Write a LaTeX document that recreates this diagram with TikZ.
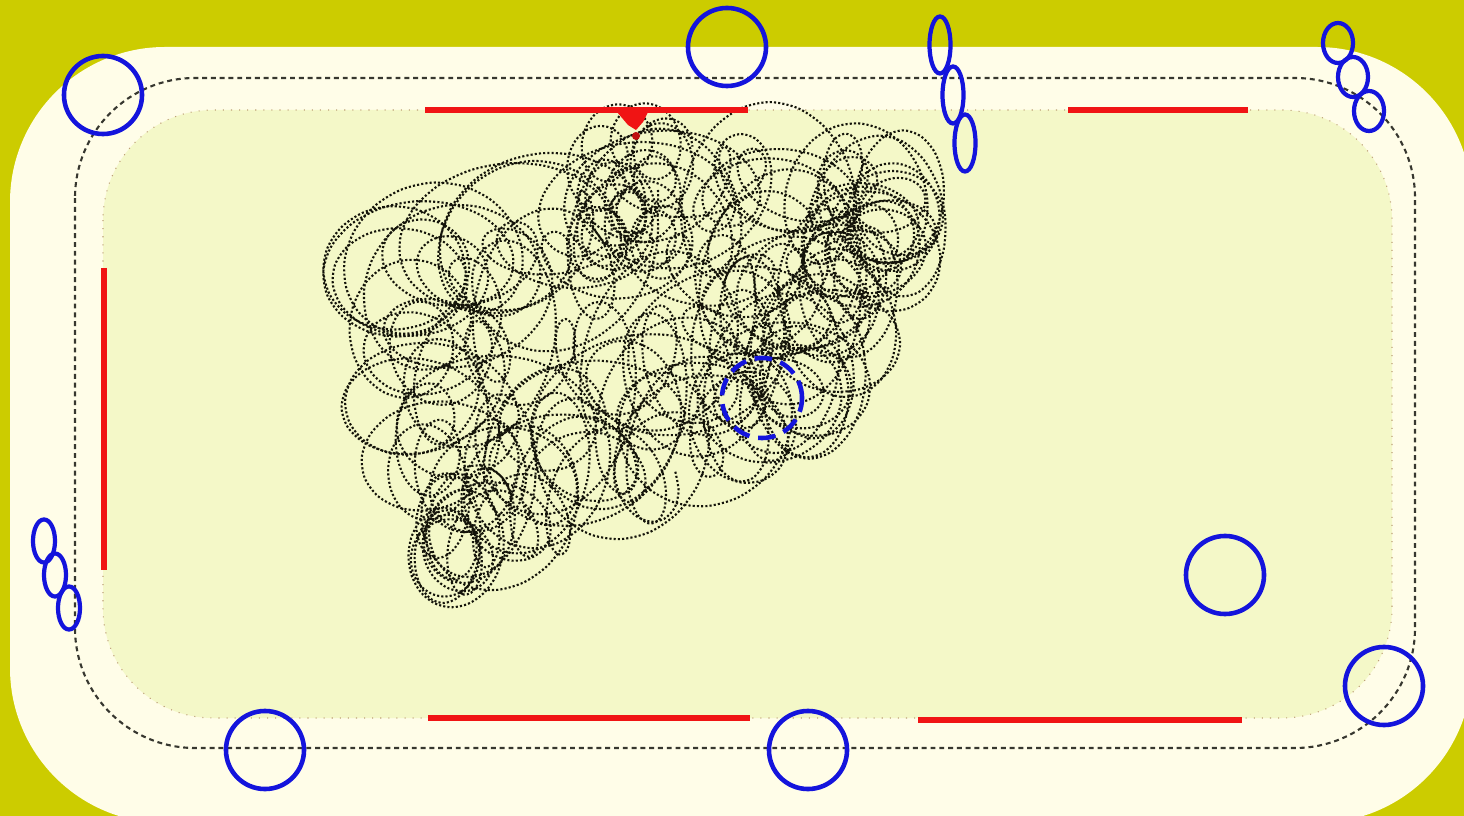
\documentclass[tikz,border=0pt]{standalone}
\usepackage{tikz}
\usetikzlibrary{positioning, shapes.geometric}

\definecolor{floorolive}{RGB}{204,204,0}
\definecolor{floorcream}{RGB}{255,253,232}
\definecolor{roomfill}{RGB}{244,248,200}
\definecolor{roomedge}{RGB}{190,160,120}
\definecolor{wallred}{RGB}{240,20,20}
\definecolor{bumpblue}{RGB}{20,20,220}
\definecolor{trackgray}{RGB}{20,20,10}

\begin{document}
\begin{tikzpicture}[x=0.01cm, y=-0.01cm,
  ring/.style={circle, draw=bumpblue, line width=1.3pt, minimum size=0.78cm, inner sep=0pt},
  link/.style={ellipse, draw=bumpblue, line width=1.2pt, inner sep=0pt},
  wall/.style={draw=wallred, line width=1.7pt},
  track/.style={draw=trackgray, line width=0.6pt, dash pattern=on 0.6pt off 0.6pt},
  declare function={
    ss(\t)=0.5+0.5*sin(29*\t+22*sin(7*\t));
    ww(\t)=0.5+0.5*sin(19*\t+70+30*sin(11*\t+15));
    rr(\t)=50+17*sin(47*\t);
    kk(\t)=0.2*sin(17*\t);
  }]
  \useasboundingbox (0,0) rectangle (1464,816);
  \clip (0,0) rectangle (1464,816);
  \fill[floorolive] (0,0) rectangle (1464,816);
  \fill[floorcream, rounded corners=1.55cm] (10,47) rectangle (1472,823);
  \draw[trackgray!85, line width=0.6pt, dash pattern=on 1.4pt off 1.1pt, rounded corners=1.2cm] (75,78) rectangle (1415,748);
  \draw[fill=roomfill, draw=roomedge, line width=0.3pt, dotted, rounded corners=1.1cm] (103,110) rectangle (1392,718);

  % cleaning track
  \draw[track] plot[smooth, domain=0:130, samples=2081, variable=\t]
    ({390+ss(\t)*(520-160*ww(\t))+55*ww(\t)+rr(\t)*cos(360*frac(\t))*(1+kk(\t))},
     {270+290*ww(\t)-ss(\t)*(70+100*ww(\t))-50*sin(180*ss(\t))*(1-ww(\t))+rr(\t)*sin(360*frac(\t))*(1.12-kk(\t))});
  \draw[track] plot[smooth, domain=0:16, samples=257, variable=\t]
    ({630+35*sin(50*\t)+28*cos(360*frac(\t))},
     {190+55*sin(37*\t)+34*sin(360*frac(\t))});

  % walls
  \coordinate (w0) at (425,110);
  \coordinate (w1) at (748,110);
  \coordinate (w2) at (1068,110);
  \coordinate (w3) at (1248,110);
  \coordinate (w4) at (104,268);
  \coordinate (w5) at (104,570);
  \coordinate (w6) at (428,718);
  \coordinate (w7) at (750,718);
  \coordinate (w8) at (918,720);
  \coordinate (w9) at (1242,720);
  \draw[wall] (w0) -- (w1);
  \draw[wall] (w2) -- (w3);
  \draw[wall] (w4) -- (w5);
  \draw[wall] (w6) -- (w7);
  \draw[wall] (w8) -- (w9);

  % dock
  \fill[wallred] (617,112) -- (648,112) -- (643,122) -- (636,130) -- (628,125) -- cycle;
  \fill[wallred!80!black] (636,136) circle (0.04cm);

  % bumpers
  \node[ring] (b0) at (103,95) {};
  \node[ring] (b1) at (727,47) {};
  \node[ring] (b2) at (1225,575) {};
  \node[ring] (b3) at (1384,686) {};
  \node[ring] (b4) at (265,750) {};
  \node[ring] (b5) at (808,750) {};
  \node[ring, dash pattern=on 5pt off 2.5pt, minimum size=0.8cm] (b6) at (762,398) {};

  \node[link, minimum width=0.21cm, minimum height=0.57cm] (e0) at (940,45) {};
  \node[link, minimum width=0.21cm, minimum height=0.57cm] (e1) at (953,95) {};
  \node[link, minimum width=0.21cm, minimum height=0.57cm] (e2) at (965,143) {};
  \node[link, minimum width=0.30cm, minimum height=0.40cm] (e3) at (1338,43) {};
  \node[link, minimum width=0.30cm, minimum height=0.40cm] (e4) at (1353,77) {};
  \node[link, minimum width=0.30cm, minimum height=0.40cm] (e5) at (1369,111) {};
  \node[link, minimum width=0.22cm, minimum height=0.43cm] (e6) at (44,541) {};
  \node[link, minimum width=0.22cm, minimum height=0.43cm] (e7) at (55,575) {};
  \node[link, minimum width=0.22cm, minimum height=0.43cm] (e8) at (69,608) {};
\end{tikzpicture}
\end{document}
